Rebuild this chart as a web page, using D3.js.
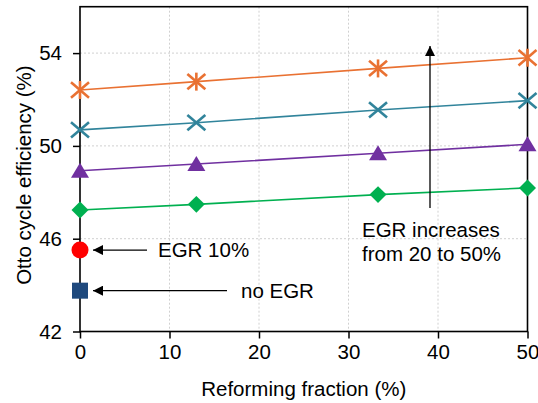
<!DOCTYPE html>
<html>
<head>
<meta charset="utf-8">
<script src="https://cdn.jsdelivr.net/npm/d3@7/dist/d3.min.js"></script>
<style>
  html, body { margin: 0; padding: 0; background: #fff; }
  svg { display: block; font-family: "Liberation Sans", Arial, sans-serif; }
</style>
</head>
<body>
<svg id="chart" width="538" height="403"></svg>
<script>
// Reforming fraction (%) at which each EGR level was evaluated
const reformingFraction = [0, 13, 33.3, 50];

// Otto cycle efficiency (%) for each EGR level (20 → 50 %)
const effEGR20 = [47.24, 47.48, 47.90, 48.19];
const effEGR30 = [48.93, 49.22, 49.68, 50.07];
const effEGR40 = [50.69, 51.00, 51.55, 51.95];
const effEGR50 = [52.41, 52.77, 53.34, 53.80];

// Reference points without reforming
const effEGR10 = 45.51;
const effNoEGR = 43.76;

const xTicks = [0, 10, 20, 30, 40, 50];
const yTicks = [42, 46, 50, 54];

const series = [
  { values: effEGR20, color: "#00B050", marker: "diamond" },
  { values: effEGR30, color: "#7030A0", marker: "triangle" },
  { values: effEGR40, color: "#31849B", marker: "cross" },
  { values: effEGR50, color: "#E97132", marker: "asterisk" }
];

const FS = 20.5;
const svg = d3.select("#chart");
const plotLeft = 80, plotRight = 527.5, plotTop = 6.7, plotBottom = 331.5;

const x = d3.scaleLinear().domain([0, 50]).range([plotLeft, plotRight]);
const y = d3.scaleLinear().domain([42, 56]).range([plotBottom, plotTop]);

// Dotted gridlines
const grid = svg.append("g").attr("stroke", "#d0d0d0").attr("stroke-width", 1)
  .attr("stroke-dasharray", "2,2");
xTicks.filter(t => t > 0 && t < 50).forEach(t => {
  grid.append("line").attr("x1", x(t)).attr("x2", x(t)).attr("y1", plotTop).attr("y2", plotBottom);
});
yTicks.filter(t => t > 42).forEach(t => {
  grid.append("line").attr("x1", plotLeft).attr("x2", plotRight).attr("y1", y(t)).attr("y2", y(t));
});

// Axes
const xAxis = svg.append("g").attr("transform", `translate(0,${plotBottom})`)
  .call(d3.axisBottom(x).tickValues(xTicks).tickSize(7).tickPadding(6).tickFormat(d3.format("d")));
const yAxis = svg.append("g").attr("transform", `translate(${plotLeft},0)`)
  .call(d3.axisLeft(y).tickValues(yTicks).tickSize(7).tickPadding(11).tickFormat(d3.format("d")));
[xAxis, yAxis].forEach(a => {
  a.select(".domain").remove();
  a.selectAll(".tick line").attr("stroke", "#000").attr("stroke-width", 1.5);
  a.selectAll(".tick text").attr("font-size", FS).attr("fill", "#000")
    .attr("font-family", "Liberation Sans, Arial, sans-serif");
});
xAxis.selectAll(".tick text").attr("dy", "0.72em");

// Frame
svg.append("rect").attr("x", plotLeft).attr("y", plotTop)
  .attr("width", plotRight - plotLeft).attr("height", plotBottom - plotTop)
  .attr("fill", "none").attr("stroke", "#000").attr("stroke-width", 1.6);

// Axis titles
svg.append("text").attr("x", (plotLeft + plotRight) / 2).attr("y", 396)
  .attr("text-anchor", "middle").attr("font-size", FS).text("Reforming fraction (%)");
svg.append("text").attr("transform", `translate(31,${(plotTop + plotBottom) / 2 + 6}) rotate(-90)`)
  .attr("text-anchor", "middle").attr("font-size", FS).text("Otto cycle efficiency (%)");

// Series lines
const line = d3.line().x((d, i) => x(reformingFraction[i])).y(d => y(d));
series.forEach(s => {
  svg.append("path").datum(s.values).attr("d", line)
    .attr("fill", "none").attr("stroke", s.color).attr("stroke-width", 1.6);
});

// Markers
function drawMarker(g, type, cx, cy, color) {
  if (type === "diamond") {
    g.append("path").attr("d", d3.symbol().type(d3.symbolSquare).size(144)())
      .attr("transform", `translate(${cx},${cy}) rotate(45)`).attr("fill", color);
  } else if (type === "triangle") {
    const h = 8;
    g.append("path").attr("d", `M${cx},${cy - h}L${cx + 9},${cy + h - 1}L${cx - 9},${cy + h - 1}Z`)
      .attr("fill", color);
  } else if (type === "cross" || type === "asterisk") {
    const r = 9;
    const p = g.append("g").attr("stroke", color).attr("stroke-width", 2.6);
    p.append("line").attr("x1", cx - r).attr("y1", cy - r * 0.85).attr("x2", cx + r).attr("y2", cy + r * 0.85);
    p.append("line").attr("x1", cx - r).attr("y1", cy + r * 0.85).attr("x2", cx + r).attr("y2", cy - r * 0.85);
    if (type === "asterisk") {
      p.append("line").attr("x1", cx).attr("y1", cy - r).attr("x2", cx).attr("y2", cy + r);
    }
  }
}
series.forEach(s => {
  const g = svg.append("g");
  s.values.forEach((v, i) => drawMarker(g, s.marker, x(reformingFraction[i]), y(v), s.color));
});

// Points without reforming
svg.append("circle").attr("cx", x(0)).attr("cy", y(effEGR10)).attr("r", 8.5).attr("fill", "#FF0000");
svg.append("rect").attr("x", x(0) - 8).attr("y", y(effNoEGR) - 8).attr("width", 16).attr("height", 16)
  .attr("fill", "#1F497D");

// Arrowheads
const defs = svg.append("defs");
defs.append("marker").attr("id", "arrow").attr("viewBox", "0 0 10 10")
  .attr("refX", 10).attr("refY", 5).attr("markerWidth", 10).attr("markerHeight", 10)
  .attr("markerUnits", "userSpaceOnUse").attr("orient", "auto")
  .append("path").attr("d", "M0,0L10,5L0,10Z").attr("fill", "#000");

// Annotations
svg.append("line").attr("x1", 147).attr("y1", y(effEGR10)).attr("x2", 93).attr("y2", y(effEGR10))
  .attr("stroke", "#000").attr("stroke-width", 1.3).attr("marker-end", "url(#arrow)");
svg.append("text").attr("x", 158).attr("y", y(effEGR10) + 7).attr("font-size", FS).text("EGR 10%");

svg.append("line").attr("x1", 227).attr("y1", y(effNoEGR)).attr("x2", 93).attr("y2", y(effNoEGR))
  .attr("stroke", "#000").attr("stroke-width", 1.3).attr("marker-end", "url(#arrow)");
svg.append("text").attr("x", 241).attr("y", y(effNoEGR) + 7).attr("font-size", FS).text("no EGR");

svg.append("line").attr("x1", 430).attr("y1", 208).attr("x2", 430).attr("y2", 46)
  .attr("stroke", "#000").attr("stroke-width", 1.3).attr("marker-end", "url(#arrow)");
svg.append("text").attr("x", 362).attr("y", 237).attr("font-size", FS).text("EGR increases");
svg.append("text").attr("x", 362).attr("y", 261).attr("font-size", FS).text("from 20 to 50%");
</script>
</body>
</html>
